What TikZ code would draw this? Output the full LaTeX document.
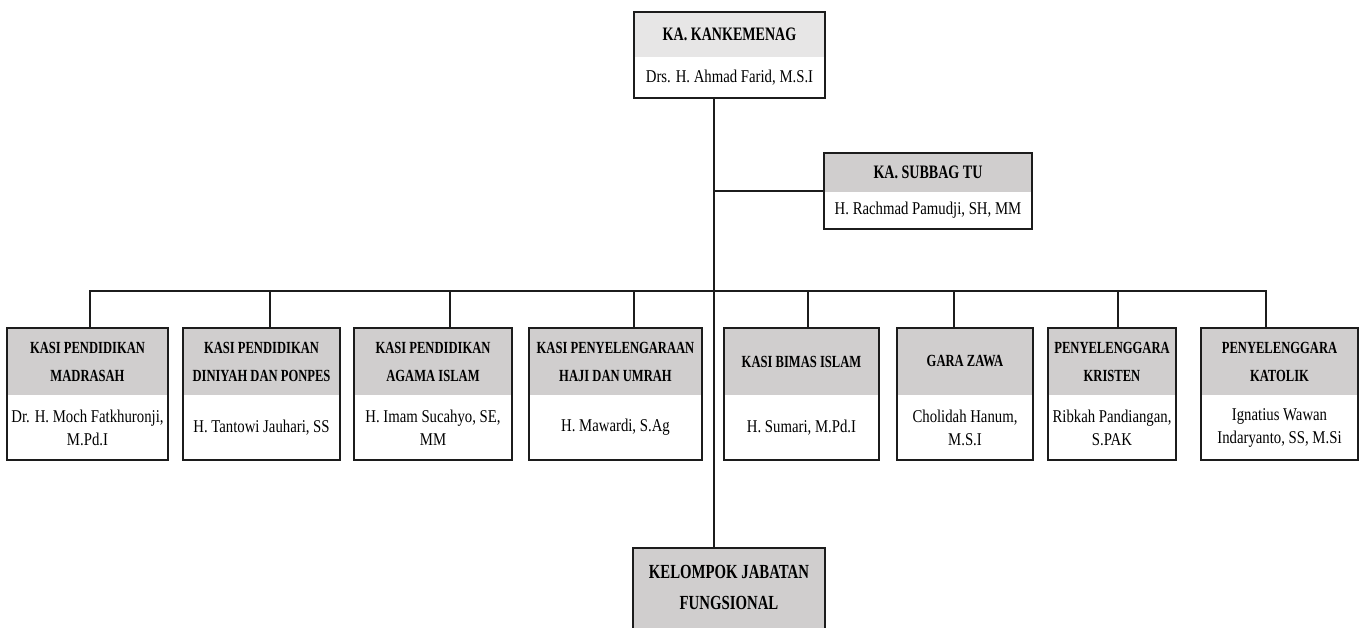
\documentclass[tikz,border=0pt]{standalone}
\usepackage{fontspec}
\setmainfont{Liberation Serif}
\newfontfamily\hdfont[FakeStretch=0.74]{Liberation Serif}
\newfontfamily\bdfont[FakeStretch=0.82]{Liberation Serif}
\definecolor{hdgray}{RGB}{208,206,206}
\definecolor{hdlight}{RGB}{231,230,230}
\definecolor{lnc}{RGB}{28,28,28}
\tikzset{
  box/.style={draw=lnc, line width=1.8pt, inner sep=0pt},
  conn/.style={draw=lnc, line width=1.4pt},
  hd/.style={font=\hdfont\bfseries\fontsize{17}{28}\selectfont, align=center, inner sep=0pt, text=black},
  bd/.style={font=\bdfont\fontsize{18}{23}\selectfont, align=center, inner sep=0pt, text=black},
}
% name, x1, y1, x2, y2, ysplit, header colour, header, body
\newcommand\orgbox[9]{%
  \fill[#7] (#2,#3) rectangle (#4,#6);
  \node[box, minimum width={(#4-#2)*1pt}, minimum height={(#5-#3)*1pt}] (#1) at ({(#2+#4)/2},{(#3+#5)/2}) {};
  \node[hd] (#1-h) at ({(#2+#4)/2},{(#3+#6)/2}) {#8};
  \node[bd] (#1-b) at ({(#2+#4)/2},{(#6+#5)/2}) {#9};
}
\begin{document}
\begin{tikzpicture}[x=1pt,y=-1pt]
\useasboundingbox (0,0) rectangle (1366,628);
\clip (0,0) rectangle (1366,628);
\fill[white] (0,0) rectangle (1366,628);

\orgbox{top}{634}{12}{825}{98}{57}{hdlight}{{\fontsize{19}{22}\selectfont KA. KANKEMENAG}}{Drs. H. Ahmad Farid, M.S.I}
\orgbox{sub}{824}{153}{1032}{229}{192}{hdgray}{{\fontsize{19}{22}\selectfont KA. SUBBAG TU}}{H. Rachmad Pamudji, SH, MM}

\orgbox{b1}{7}{328}{168}{460}{395}{hdgray}{KASI PENDIDIKAN\\MADRASAH}{Dr. H. Moch Fatkhuronji,\\M.Pd.I}
\orgbox{b2}{183}{328}{340}{460}{395}{hdgray}{KASI PENDIDIKAN\\DINIYAH DAN PONPES}{H. Tantowi Jauhari, SS}
\orgbox{b3}{354}{328}{512}{460}{395}{hdgray}{KASI PENDIDIKAN\\AGAMA ISLAM}{H. Imam Sucahyo, SE,\\MM}
\orgbox{b4}{529}{328}{702}{460}{395}{hdgray}{KASI PENYELENGARAAN\\HAJI DAN UMRAH}{H. Mawardi, S.Ag}
\orgbox{b5}{724}{328}{879}{460}{395}{hdgray}{KASI BIMAS ISLAM}{H. Sumari, M.Pd.I}
\orgbox{b6}{897}{328}{1033}{460}{395}{hdgray}{GARA ZAWA}{Cholidah Hanum,\\M.S.I}
\orgbox{b7}{1048}{328}{1176}{460}{395}{hdgray}{PENYELENGGARA\\KRISTEN}{Ribkah Pandiangan,\\S.PAK}
\orgbox{b8}{1201}{328}{1358}{460}{395}{hdgray}{PENYELENGGARA\\KATOLIK}{Ignatius Wawan\\Indaryanto, SS, M.Si}

% bottom box (cut by the page edge)
\node[box, fill=hdgray, minimum width=192pt, minimum height=112pt] (kel) at (729,604) {};
\node[hd, font=\hdfont\bfseries\fontsize{20}{31}\selectfont] (kel-h) at (729,587) {KELOMPOK JABATAN\\FUNGSIONAL};

% connectors
\coordinate (trunkTop) at ([xshift=-15.5pt]top.south);
\coordinate (bus) at (714,291);
\draw[conn] (trunkTop) -- (trunkTop |- kel.north);
\draw[conn] (sub.west) -- (sub.west -| trunkTop);
\draw[conn] ([xshift=2.5pt]b1.north) |- (bus);
\draw[conn] ([xshift=8.5pt]b2.north) |- (bus);
\draw[conn] ([xshift=17pt]b3.north) |- (bus);
\draw[conn] ([xshift=18.5pt]b4.north) |- (bus);
\draw[conn] ([xshift=6.5pt]b5.north) |- (bus);
\draw[conn] ([xshift=-11pt]b6.north) |- (bus);
\draw[conn] ([xshift=6pt]b7.north) |- (bus);
\draw[conn] ([xshift=-13.5pt]b8.north) |- (bus);
\end{tikzpicture}
\end{document}
